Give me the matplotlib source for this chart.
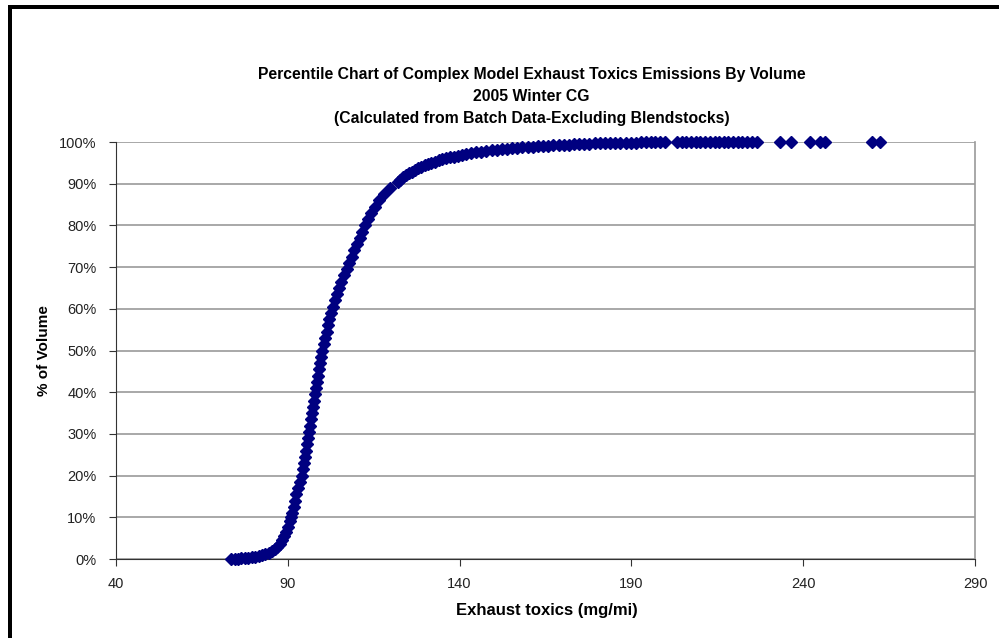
from matplotlib import pyplot as plt
from matplotlib.patches import Rectangle
from matplotlib.ticker import FuncFormatter

plt.rcParams['font.family'] = ['Liberation Sans', 'DejaVu Sans']

# lecturas del grafico: % acumulado del volumen y toxicos (mg/mi)
porcentaje = [
    0.0, 0.1, 0.1, 0.2, 0.2, 0.3, 0.4, 0.5, 0.7, 0.9, 1.2, 1.5, 2.0, 2.5, 3.0, 3.7,
    4.5, 5.5, 6.5, 7.7, 9.0, 10.0, 11.0, 12.5, 14.0, 15.5, 17.0, 18.5, 20.0, 21.5,
    23.0, 24.5, 26.0, 27.5, 29.0, 30.5, 32.0, 33.5, 35.0, 36.5, 38.0, 39.5, 41.0,
    42.5, 44.0, 45.5, 47.0, 48.5, 50.0, 51.5, 53.0, 54.5, 56.0, 57.5, 59.0, 60.5,
    62.0, 63.5, 65.0, 66.5, 68.0, 69.5, 71.0, 72.5, 74.0, 75.5, 77.0, 78.5, 80.0,
    81.5, 83.0, 84.5, 86.0, 87.5, 89.0, 90.5, 91.0, 91.5, 92.0, 92.5, 92.9, 93.3,
    93.7, 94.0, 94.4, 94.7, 95.0, 95.3, 95.6, 95.9, 96.1, 96.3, 96.5, 96.7, 96.9,
    97.1, 97.3, 97.5, 97.7, 97.9, 98.0, 98.2, 98.3, 98.4, 98.5, 98.6, 98.7, 98.8,
    98.9, 99.0, 99.1, 99.15, 99.2, 99.3, 99.35, 99.4, 99.45, 99.5, 99.55, 99.6,
    99.65, 99.7, 99.72, 99.75, 99.78, 99.8, 99.83, 99.85, 99.87, 99.89, 99.9,
    99.91, 99.92, 99.93, 99.94, 99.95, 99.95, 99.96, 99.96, 99.96, 99.97, 99.97,
    99.97, 99.98, 99.98, 99.98, 99.98, 99.99, 99.99, 99.99, 99.99, 99.99, 99.99,
    100.0, 100.0, 100.0, 100.0, 100.0, 100.0, 100.0,
]
toxicos = [
    73.5, 74.5, 75.5, 76.5, 77.5, 78.5, 79.5, 80.5, 81.5, 82.5, 83.5, 84.5, 85.5,
    86.3, 87.0, 87.7, 88.4, 89.0, 89.6, 90.2, 90.7, 91.0, 91.3, 91.7, 92.1, 92.5,
    93.0, 93.5, 94.0, 94.3, 94.6, 94.9, 95.2, 95.5, 95.8, 96.1, 96.4, 96.7, 97.0,
    97.3, 97.6, 97.9, 98.2, 98.5, 98.8, 99.1, 99.4, 99.8, 100.1, 100.5, 100.9,
    101.3, 101.7, 102.1, 102.6, 103.1, 103.6, 104.2, 104.9, 105.6, 106.4, 107.2,
    107.9, 108.6, 109.3, 110.1, 110.9, 111.6, 112.4, 113.3, 114.2, 115.3, 116.5,
    118.0, 119.8, 122.0, 122.8, 123.6, 124.4, 125.3, 126.1, 127.0, 128.0, 128.9,
    129.9, 130.8, 131.8, 132.8, 133.9, 135.0, 136.1, 137.2, 138.4, 139.6, 140.8,
    142.0, 143.3, 144.8, 146.3, 147.8, 149.3, 150.8, 152.3, 153.8, 155.3, 156.8,
    158.3, 159.8, 161.3, 162.8, 164.3, 165.8, 167.3, 168.8, 170.3, 171.8, 173.3,
    174.8, 176.3, 177.8, 179.3, 180.8, 182.3, 183.8, 185.3, 186.8, 188.3, 189.8,
    191.3, 192.8, 194.3, 195.6, 197.0, 198.4, 199.8, 203.2, 204.6, 206.0, 207.3,
    208.7, 210.1, 211.4, 212.8, 214.2, 215.5, 216.9, 218.2, 219.6, 221.0, 222.3,
    223.7, 225.1, 226.5, 233.3, 236.4, 242.0, 245.0, 246.2, 260.0, 262.3,
]

ticks_x = [40, 90, 140, 190, 240, 290]
ticks_y = [0, 10, 20, 30, 40, 50, 60, 70, 80, 90, 100]

fig = plt.figure(figsize=(9.99, 6.38), dpi=100)
ax = fig.add_axes([0.1161, 0.1238, 0.8599, 0.6536])

ax.plot(toxicos, porcentaje, linestyle='none', marker='D', markersize=5.8,
        color='#000080', markeredgecolor='#000080', clip_on=False, zorder=3)

ax.set_xlim(40, 290)
ax.set_ylim(0, 100)
ax.set_xticks(ticks_x)
ax.set_yticks(ticks_y)
ax.yaxis.set_major_formatter(FuncFormatter(lambda v, p: '%d%%' % v))
ax.grid(axis='y', color='#999999', linewidth=1.2)
ax.set_axisbelow(True)

ax.spines['top'].set_visible(False)
ax.spines['right'].set_color('#999999')
ax.spines['right'].set_linewidth(1.2)
ax.spines['left'].set_color('#333333')
ax.spines['bottom'].set_color('#333333')
ax.tick_params(axis='both', direction='out', length=5, color='#333333',
               labelsize=10.5, labelcolor='#222222')
ax.tick_params(axis='y', pad=9)
ax.tick_params(axis='x', pad=8)

ax.set_xlabel('Exhaust toxics (mg/mi)', fontsize=12, fontweight='bold')
ax.set_ylabel('% of Volume', fontsize=11, fontweight='bold')
ax.xaxis.set_label_coords(0.502, -0.105)
ax.yaxis.set_label_coords(-0.076, 0.5)

fig.text(0.532, 0.849, 'Percentile Chart of Complex Model Exhaust Toxics Emissions By Volume\n'
         '2005 Winter CG\n(Calculated from Batch Data-Excluding Blendstocks)',
         ha='center', va='center', fontsize=11.3, fontweight='bold', linespacing=1.6)

# marco negro (izquierda y arriba)
fig.add_artist(Rectangle((8 / 999, 0), 4 / 999, 1 - 5 / 638, transform=fig.transFigure,
                         color='black', lw=0))
fig.add_artist(Rectangle((8 / 999, 1 - 9 / 638), 1, 4 / 638, transform=fig.transFigure,
                         color='black', lw=0))

plt.savefig('out.png', dpi=100)
